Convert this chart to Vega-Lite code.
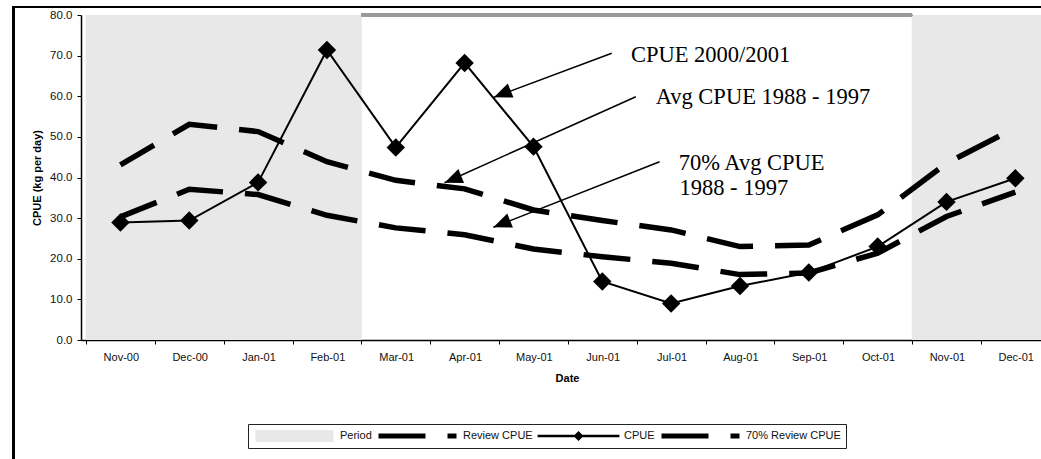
{
  "$schema": "https://vega.github.io/schema/vega-lite/v6.json",
  "width": 960,
  "height": 325,
  "autosize": {"type": "none"},
  "padding": {"left": 81, "top": 15, "right": 0, "bottom": 119},
  "background": "white",
  "config": {"view": {"stroke": null}, "font": "Liberation Sans"},
  "data": {
    "values": [
      {"i": 0, "month": "Nov-00", "period": 80, "cpue": 28.9, "review": 43.1, "review70": 30.3},
      {"i": 1, "month": "Dec-00", "period": 80, "cpue": 29.4, "review": 53.1, "review70": 37.1},
      {"i": 2, "month": "Jan-01", "period": 80, "cpue": 38.8, "review": 51.3, "review70": 35.8},
      {"i": 3, "month": "Feb-01", "period": 80, "cpue": 71.4, "review": 43.9, "review70": 30.7},
      {"i": 4, "month": "Mar-01", "period": null, "cpue": 47.4, "review": 39.3, "review70": 27.6},
      {"i": 5, "month": "Apr-01", "period": null, "cpue": 68.2, "review": 37.2, "review70": 25.9},
      {"i": 6, "month": "May-01", "period": null, "cpue": 47.6, "review": 32.0, "review70": 22.4},
      {"i": 7, "month": "Jun-01", "period": null, "cpue": 14.4, "review": 29.4, "review70": 20.5},
      {"i": 8, "month": "Jul-01", "period": null, "cpue": 9.0, "review": 27.1, "review70": 18.9},
      {"i": 9, "month": "Aug-01", "period": null, "cpue": 13.3, "review": 23.0, "review70": 16.1},
      {"i": 10, "month": "Sep-01", "period": null, "cpue": 16.6, "review": 23.4, "review70": 16.5},
      {"i": 11, "month": "Oct-01", "period": null, "cpue": 23.0, "review": 30.8, "review70": 21.4},
      {"i": 12, "month": "Nov-01", "period": 80, "cpue": 34.0, "review": 43.5, "review70": 30.4},
      {"i": 13, "month": "Dec-01", "period": 80, "cpue": 39.8, "review": 52.2, "review70": 36.4}
    ]
  },
  "layer": [
    {
      "mark": {"type": "bar", "orient": "vertical", "width": 69.57, "opacity": 1},
      "encoding": {
        "x": {
          "field": "i", "type": "quantitative",
          "scale": {"domain": [-0.5, 13.3], "nice": false, "zero": false},
          "axis": {
            "title": "Date",
            "values": [-0.5, 0.5, 1.5, 2.5, 3.5, 4.5, 5.5, 6.5, 7.5, 8.5, 9.5, 10.5, 11.5, 12.5],
            "labelExpr": "['Nov-00','Dec-00','Jan-01','Feb-01','Mar-01','Apr-01','May-01','Jun-01','Jul-01','Aug-01','Sep-01','Oct-01','Nov-01','Dec-01'][round(datum.value + 0.5)]",
            "labelOffset": 34.8,
            "grid": false,
            "tickSize": 4, "tickColor": "black", "tickWidth": 1,
            "domainColor": "black", "domainWidth": 1.5,
            "labelFontSize": 11, "labelColor": "#111111", "labelPadding": 7,
            "labelOverlap": false, "labelFlush": false, "labelBound": false,
            "titleFontSize": 11, "titleFontWeight": "bold", "titleColor": "black",
            "titlePadding": 10, "titleX": 486
          }
        },
        "y": {
          "field": "period", "type": "quantitative",
          "scale": {"domain": [0, 80], "nice": false, "zero": true},
          "axis": {
            "title": "CPUE (kg per day)",
            "values": [0, 10, 20, 30, 40, 50, 60, 70, 80],
            "format": ".1f",
            "grid": false,
            "tickSize": 4, "tickColor": "black",
            "domainColor": "black", "domainWidth": 1.5,
            "labelFontSize": 11.5, "labelColor": "#111111", "labelPadding": 5,
            "titleFontSize": 11, "titleFontWeight": "bold", "titleColor": "black",
            "titlePadding": 7
          }
        },
        "fill": {
          "datum": "Period",
          "scale": {
            "domain": ["Period", "Review CPUE", "CPUE", "70% Review CPUE"],
            "range": ["#e8e8e8", "transparent", "black", "transparent"]
          },
          "legend": {
            "orient": "none",
            "legendX": 167,
            "legendY": 409,
            "direction": "horizontal",
            "title": null,
            "strokeColor": "#222222",
            "fillColor": "white",
            "padding": 5,
            "symbolSize": 6084,
            "symbolOpacity": 1,
            "symbolStrokeWidth": 5,
            "clipHeight": 14,
            "labelFontSize": 11,
            "labelColor": "#111111",
            "labelOffset": 4,
            "columnPadding": 4
          }
        }
      }
    },
    {
      "mark": {"type": "rule", "color": "#999999", "strokeWidth": 2.5},
      "encoding": {
        "x": {"datum": 3.5, "type": "quantitative"},
        "x2": {"datum": 11.5},
        "y": {"datum": 80, "type": "quantitative"}
      }
    },
    {
      "mark": {"type": "line", "strokeWidth": 5.5, "strokeDashOffset": 8, "strokeCap": "butt"},
      "encoding": {
        "x": {"field": "i", "type": "quantitative"},
        "y": {"field": "review", "type": "quantitative"},
        "stroke": {
          "datum": "Review CPUE",
          "scale": {
            "domain": ["Period", "Review CPUE", "CPUE", "70% Review CPUE"],
            "range": ["transparent", "black", "transparent", "black"]
          },
          "legend": {"title": null}
        },
        "strokeDash": {
          "datum": "Review CPUE",
          "scale": {
            "domain": ["Period", "Review CPUE", "CPUE", "70% Review CPUE"],
            "range": [[1, 0], [47, 22], [1, 0], [47, 22]]
          },
          "legend": {"title": null}
        }
      }
    },
    {
      "mark": {"type": "line", "strokeWidth": 5.5, "strokeDashOffset": 8, "strokeCap": "butt"},
      "encoding": {
        "x": {"field": "i", "type": "quantitative"},
        "y": {"field": "review70", "type": "quantitative"},
        "stroke": {"datum": "70% Review CPUE"},
        "strokeDash": {"datum": "70% Review CPUE"}
      }
    },
    {
      "mark": {"type": "line", "strokeWidth": 2, "color": "black"},
      "encoding": {
        "x": {"field": "i", "type": "quantitative"},
        "y": {"field": "cpue", "type": "quantitative"}
      }
    },
    {
      "data": {"values": []},
      "mark": {"type": "point", "opacity": 1},
      "encoding": {
        "shape": {
          "datum": "CPUE",
          "scale": {
            "domain": ["Period", "Review CPUE", "CPUE", "70% Review CPUE"],
            "range": ["M-1,-0.154L1,-0.154L1,0.154L-1,0.154Z", "stroke", "M-1.05,-0.03L1.05,-0.03L1.05,0.03L-1.05,0.03ZM0,-0.13L0.13,0L0,0.13L-0.13,0Z", "stroke"]
          },
          "legend": {"title": null}
        }
      }
    },
    {
      "mark": {"type": "point", "shape": "diamond", "size": 340, "filled": true, "color": "black", "opacity": 1},
      "encoding": {
        "x": {"field": "i", "type": "quantitative"},
        "y": {"field": "cpue", "type": "quantitative"}
      }
    },
    {
      "data": {
        "values": [
          {"x1": 7.137, "y1": 70.57, "x2": 5.426, "y2": 59.74},
          {"x1": 7.487, "y1": 59.89, "x2": 4.708, "y2": 38.72},
          {"x1": 7.832, "y1": 43.89, "x2": 5.418, "y2": 27.74}
        ]
      },
      "layer": [
        {
          "mark": {"type": "rule", "color": "black", "strokeWidth": 1.5},
          "encoding": {
            "x": {"field": "x1", "type": "quantitative"},
            "x2": {"field": "x2"},
            "y": {"field": "y1", "type": "quantitative"},
            "y2": {"field": "y2"}
          }
        },
        {
          "mark": {"type": "point", "shape": "M0,0L0.42,1L-0.42,1Z", "size": 1296, "angle": 248, "filled": true, "color": "black", "opacity": 1},
          "encoding": {
            "x": {"field": "x2", "type": "quantitative"},
            "y": {"field": "y2", "type": "quantitative"}
          }
        }
      ]
    },
    {
      "data": {
        "values": [
          {"label": "CPUE 2000/2001", "x": 7.416, "y": 68.5},
          {"label": "Avg CPUE 1988 - 1997", "x": 7.775, "y": 58.09},
          {"label": "70% Avg CPUE", "x": 8.11, "y": 41.85},
          {"label": "1988 - 1997", "x": 8.12, "y": 35.69}
        ]
      },
      "mark": {"type": "text", "align": "left", "baseline": "alphabetic", "font": "Liberation Serif", "fontSize": 22.5, "color": "black"},
      "encoding": {
        "x": {"field": "x", "type": "quantitative"},
        "y": {"field": "y", "type": "quantitative"},
        "text": {"field": "label"}
      }
    },
    {
      "mark": {"type": "rect", "filled": false, "stroke": "black", "strokeWidth": 2},
      "encoding": {
        "x": {"datum": -1.55, "type": "quantitative"},
        "x2": {"datum": 14.5},
        "y": {"datum": 81.97, "type": "quantitative"},
        "y2": {"datum": -40}
      }
    }
  ]
}
